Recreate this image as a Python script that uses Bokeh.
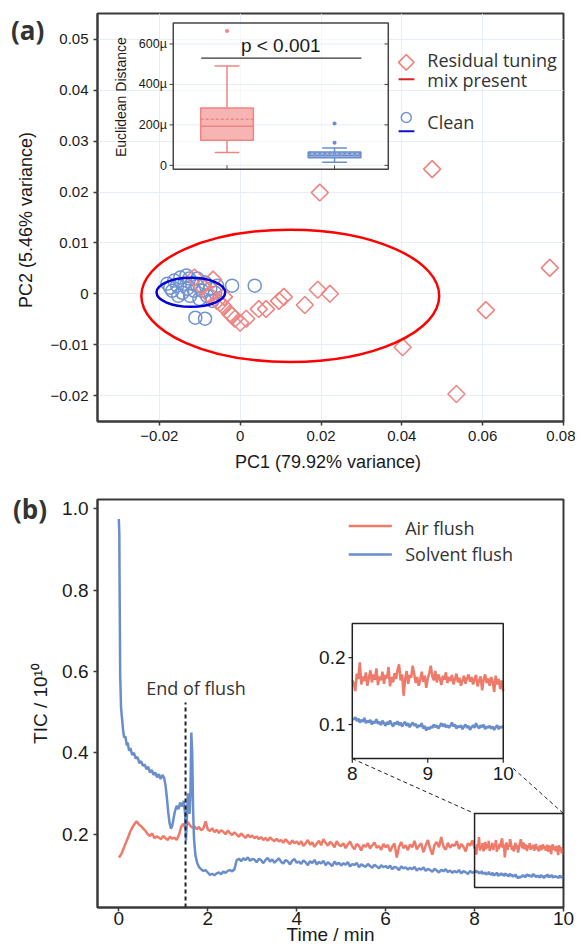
import numpy as np
from bokeh.plotting import figure
from bokeh.layouts import column
from bokeh.models import Range1d, FixedTicker, Div
from bokeh.core.properties import value
from bokeh.embed import file_html
from bokeh.resources import INLINE

# ======================= (a) PCA scores =======================
res_pc1 = [-0.0113, -0.0094, -0.0067, -0.0077, -0.0057, -0.0050, -0.0042, -0.0040, -0.0025,
           -0.0020, -0.0013, 0.0000, 0.0015, 0.0046, 0.0064, 0.0096, 0.0108, 0.0160, 0.0192,
           0.0222, 0.0197, 0.0475, 0.0766, 0.0608, 0.0402, 0.0535]
res_pc2 = [0.0032, 0.0014, 0.0028, -0.0002, -0.0014, -0.0018, -0.0024, -0.0006, -0.0039,
           -0.0043, -0.0049, -0.0057, -0.0049, -0.0030, -0.0030, -0.0014, -0.0006, -0.0022, 0.0008,
           0.0000, 0.0199, 0.0245, 0.0051, -0.0032, -0.0105, -0.0197]
clean_pc1 = [-0.0180, -0.0168, -0.0163, -0.0156, -0.0148, -0.0143, -0.0138, -0.0131, -0.0126,
             -0.0124, -0.0119, -0.0114, -0.0106, -0.0101, -0.0094, -0.0087, -0.0082, -0.0074,
             -0.0069, -0.0062, -0.0153, -0.0173, -0.0133, -0.0106, -0.0057, -0.0020, 0.0036,
             -0.0111, -0.0087]
clean_pc2 = [0.0020, 0.0006, 0.0026, 0.0016, 0.0032, 0.0002, 0.0020, 0.0010, 0.0030,
             -0.0004, 0.0020, 0.0006, 0.0016, -0.0010, 0.0006, 0.0022, -0.0004, 0.0010,
             -0.0014, 0.0002, -0.0004, 0.0012, 0.0036, 0.0030, 0.0016, 0.0016, 0.0016,
             -0.0047, -0.0049]
ell_x = [0.0124, -0.0122]
ell_y = [-0.0004, 0.0003]
ell_w = [0.0737, 0.0170]
ell_h = [0.0260, 0.0057]
ell_colors = ["#ff0000", "#0000d8"]
pca_xticks = [-0.02, 0, 0.02, 0.04, 0.06, 0.08]
pca_xlabels = ["−0.02", "0", "0.02", "0.04", "0.06", "0.08"]
pca_yticks = [-0.02, -0.01, 0, 0.01, 0.02, 0.03, 0.04, 0.05]
pca_ylabels = ["−0.02", "−0.01", "0", "0.01", "0.02", "0.03", "0.04", "0.05"]
legend_a_text = ["Residual tuning", "mix present", "Clean"]

# inset box plot (Euclidean distance, in µ units)
box_cats = [1, 2]
box_q1 = [124, 38]
box_q3 = [283, 66]
box_med = [193, 48]
box_mean = [228, 58]
box_lo = [64, 15]
box_hi = [491, 86]
out_cat = [1, 2, 2]
out_val = [664, 111, 207]
box_yticks = [0, 200, 400, 600]
box_ylabels = ["0", "200µ", "400µ", "600µ"]
sig_y = 530
sig_text = "p < 0.001"

# ======================= (b) TIC traces =======================
# values in units of 0.001 x 10^10
air_early = [143, 150, 163, 177, 190, 205, 216, 225, 232, 224,
             220, 214, 208, 200, 196, 202, 190, 195, 192, 188,
             196, 190, 186, 194, 189, 192, 186, 198, 218, 226,
             214, 230, 222, 216, 220, 212, 218, 210, 214, 232,
             212]                                   # t = 0.00 ... 2.00 (0.05 step)
air_mid = [208, 215, 205, 211, 203, 210, 206, 200, 209, 203,
           198, 205, 199, 194, 202, 196, 191, 199, 193, 197,
           190, 195, 188, 193, 186, 191, 184, 192, 187, 183,
           189, 182, 186, 179, 188, 181, 176, 185, 178, 182,
           175, 183, 171, 178, 186, 174, 180, 169, 177, 184,
           173, 188, 179, 172, 181, 176, 168, 183, 174, 171,
           178, 166, 175, 182, 170, 163, 176, 172, 160, 174,
           169, 178, 165, 173, 180, 167, 171, 162, 176, 168,
           174, 158, 170, 177, 143, 169, 181, 166, 173, 161,
           175, 168, 184, 163, 171, 178, 156, 172, 186, 165,
           150, 174, 181, 168, 193, 170, 162, 179, 167, 175,
           171, 183, 164, 176, 169, 158, 178, 172, 185, 166]   # t = 2.05 ... 8.00 (0.05 step)
air_late = [162, 150, 176, 168, 193, 160, 172, 165, 178, 158,
            170, 181, 163, 175, 167, 184, 159, 172, 166, 179,
            161, 174, 169, 186, 157, 171, 163, 177, 168, 182,
            190, 166, 175, 143, 168, 180, 161, 174, 170, 188,
            176, 162, 171, 158, 167, 179, 164, 173, 155, 169,
            177, 188, 172, 166, 180, 163, 175, 169, 159, 173,
            167, 178, 162, 171, 165, 174, 160, 168, 176, 163,
            170, 158, 166, 173, 161, 169, 175, 164, 171, 160,
            168, 174, 157, 166, 172, 151, 167, 175, 162, 169,
            158, 171, 164, 149, 173, 160, 168, 153, 166, 150]  # t = 8.02 ... 10.00 (0.02 step)

solv_early_t = [0.00, 0.01, 0.02, 0.03, 0.05, 0.08, 0.10, 0.12, 0.15, 0.18, 0.20, 0.23, 0.26,
                0.30, 0.34, 0.38, 0.42, 0.46, 0.50, 0.54, 0.58, 0.62, 0.66, 0.70, 0.74, 0.78,
                0.82, 0.86, 0.90, 0.94, 0.98, 1.02, 1.05, 1.08, 1.11, 1.14, 1.17, 1.20, 1.23,
                1.26, 1.30, 1.34, 1.38, 1.42, 1.46, 1.49, 1.51, 1.53, 1.55, 1.57, 1.59, 1.61,
                1.63, 1.65, 1.67, 1.69, 1.72, 1.76, 1.80, 1.85, 1.90, 1.95, 2.00]
solv_early = [975, 940, 760, 590, 510, 475, 452, 438, 440, 418, 425, 405, 412,
              395, 400, 386, 390, 375, 380, 368, 372, 360, 366, 352, 358, 346,
              352, 340, 348, 336, 346, 338, 320, 290, 255, 228, 214, 220, 238,
              256, 270, 262, 278, 268, 282, 250, 185, 240, 295, 300, 250, 300,
              450, 400, 260, 190, 150, 130, 120, 114, 110, 112, 106]
solv_mid = [100, 103, 99, 104, 106, 102, 108, 105, 110, 112,
            109, 114, 136, 140, 134, 141, 137, 143, 135, 139,
            138, 131, 140, 136, 129, 137, 142, 133, 138, 130,
            136, 141, 132, 128, 137, 133, 126, 135, 139, 130,
            133, 127, 136, 131, 124, 134, 129, 137, 126, 132,
            128, 135, 124, 131, 127, 122, 133, 126, 130, 123,
            129, 125, 132, 121, 127, 124, 130, 119, 126, 123,
            120, 127, 122, 118, 125, 121, 116, 124, 119, 122,
            117, 123, 114, 120, 118, 112, 121, 116, 119, 113,
            118, 114, 120, 111, 116, 113, 119, 110, 115, 112,
            108, 115, 111, 106, 113, 109, 114, 107, 111, 105,
            110, 106, 112, 104, 109, 107, 102, 110, 105, 108]
solv_late = [108, 111, 105, 109, 103, 107, 104, 110, 102, 106,
             103, 107, 100, 105, 102, 108, 101, 104, 99, 106,
             102, 98, 104, 100, 106, 101, 97, 103, 100, 105,
             99, 103, 97, 101, 104, 98, 102, 96, 100, 103,
             98, 101, 95, 99, 97, 102, 94, 98, 91, 96,
             93, 97, 95, 100, 96, 99, 94, 98, 102, 97,
             101, 96, 99, 95, 98, 103, 97, 100, 94, 98,
             96, 99, 93, 97, 100, 95, 98, 92, 96, 99,
             95, 102, 97, 94, 99, 96, 100, 93, 97, 95,
             98, 94, 97, 92, 96, 99, 93, 97, 95, 98]
flush_end = 1.5
tic_xticks = [0, 2, 4, 6, 8, 10]
tic_yticks = [0.2, 0.4, 0.6, 0.8, 1.0]
tic_ylabels = ["0.2", "0.4", "0.6", "0.8", "1.0"]
inset_xticks = [8, 9, 10]
inset_yticks = [0.1, 0.2]
legend_b_text = ["Air flush", "Solvent flush"]
panel_tags = ["(a)", "(b)"]

# sampling grids
t_early = np.round(np.arange(41) * 0.05, 3)
t_mid = np.round(2.0 + np.arange(1, 121) * 0.05, 3)
t_late = np.round(8.0 + np.arange(1, 101) * 0.02, 3)

air_t = np.concatenate([t_early, t_mid, t_late])
air_v = np.array(air_early + air_mid + air_late) / 1000.0
solv_t = np.concatenate([np.array(solv_early_t), t_mid, t_late])
solv_v = np.array(solv_early + solv_mid + solv_late) / 1000.0

RED = "#f07a6a"
BLUE = "#6a8dcc"
DIAM = "#ef8582"
CIRC = "#7094d0"
DARK = "#3a3a3a"
AX_FONT = "Liberation Sans"
TXT_FONT = "Open Sans"


def style_axes(p, tick_size, label_size):
    p.outline_line_color = DARK
    p.outline_line_width = 2
    for ax in (p.xaxis, p.yaxis):
        ax.axis_line_color = DARK
        ax.axis_line_width = 2
        ax.major_tick_line_color = DARK
        ax.major_tick_line_width = 1.5
        ax.major_tick_in = 0
        ax.major_tick_out = 4
        ax.minor_tick_line_color = None
        ax.major_label_text_font = AX_FONT
        ax.major_label_text_font_size = tick_size
        ax.major_label_text_color = "#1a1a1a"
        ax.axis_label_text_font = AX_FONT
        ax.axis_label_text_font_size = label_size
        ax.axis_label_text_font_style = "normal"
        ax.axis_label_text_color = "#1a1a1a"


# ---------------------------- figure (a) ----------------------------
pa = figure(width=575, height=475, x_range=Range1d(-0.0353, 0.0800), y_range=Range1d(-0.0251, 0.0551),
            output_backend="svg", toolbar_location=None,
            min_border_left=96, min_border_right=12, min_border_top=13, min_border_bottom=54)
pa.background_fill_color = "white"
pa.border_fill_color = "white"
style_axes(pa, "15px", "18px")
pa.xaxis.ticker = FixedTicker(ticks=pca_xticks)
pa.yaxis.ticker = FixedTicker(ticks=pca_yticks)
pa.xaxis.major_label_overrides = {t: l for t, l in zip(pca_xticks, pca_xlabels)}
pa.yaxis.major_label_overrides = {t: l for t, l in zip(pca_yticks, pca_ylabels)}
pa.xaxis.axis_label = "PC1  (79.92% variance)"
pa.yaxis.axis_label = "PC2  (5.46% variance)"
pa.xaxis.axis_label_standoff = 8
pa.yaxis.axis_label_standoff = 12
pa.grid.grid_line_color = "#e7edf6"
pa.grid.grid_line_width = 1

pa.scatter(clean_pc1, clean_pc2, marker="circle", size=13, fill_color=None,
           line_color=CIRC, line_width=1.5)
pa.scatter(res_pc1, res_pc2, marker="square", angle=np.pi / 4, size=12, fill_color=None,
           line_color=DIAM, line_width=1.6)
pa.ellipse(x=ell_x, y=ell_y, width=ell_w, height=ell_h, fill_color=None,
           line_color=ell_colors, line_width=2.5)

# legend (a)
pa.scatter([0.0411], [0.0455], marker="square", angle=np.pi / 4, size=11, fill_color=None,
           line_color=DIAM, line_width=1.6)
pa.segment(x0=[0.0392], y0=[0.0422], x1=[0.0431], y1=[0.0422], line_color="#e02020", line_width=2)
pa.scatter([0.0411], [0.03465], marker="circle", size=10, fill_color=None,
           line_color=CIRC, line_width=1.5)
pa.segment(x0=[0.0392], y0=[0.03195], x1=[0.0431], y1=[0.03195], line_color="#1010d0", line_width=2)
pa.text(x=[0.0463] * 3, y=[0.0460, 0.0420, 0.0338], text=legend_a_text,
        text_font=value(TXT_FONT), text_font_size="18px", text_color="#333333",
        text_baseline="middle", text_align="left")

# inset (a): box plot
bx_src = Range1d(0.5, 2.5)
by_src = Range1d(-20, 704)
ins = pa.subplot(x_source=bx_src, y_source=by_src,
                 x_target=Range1d(-0.01655, 0.03665), y_target=Range1d(0.02446, 0.05325))
ins.quad(left=[bx_src.start], right=[bx_src.end], bottom=[by_src.start], top=[by_src.end],
         fill_color="white", fill_alpha=0.6, line_color=None)
ins.segment(x0=[bx_src.start] * 4, x1=[bx_src.end] * 4, y0=box_yticks, y1=box_yticks,
            line_color="#e7edf6", line_width=1)
box_fill = ["#f6b5b3", "#a8bce6"]
box_line = ["#f08482", "#6a8dcc"]
cats = np.array(box_cats, dtype=float)
hw, cw = 0.245, 0.115
ins.segment(x0=cats, y0=box_q3, x1=cats, y1=box_hi, line_color=box_line, line_width=1.5)
ins.segment(x0=cats, y0=box_q1, x1=cats, y1=box_lo, line_color=box_line, line_width=1.5)
ins.segment(x0=cats - cw, y0=box_hi, x1=cats + cw, y1=box_hi, line_color=box_line, line_width=1.5)
ins.segment(x0=cats - cw, y0=box_lo, x1=cats + cw, y1=box_lo, line_color=box_line, line_width=1.5)
ins.vbar(x=cats, width=2 * hw, top=box_q3, bottom=box_q1, fill_color=box_fill,
         line_color=box_line, line_width=1.5)
ins.segment(x0=cats - hw, y0=box_med, x1=cats + hw, y1=box_med, line_color=box_line, line_width=1.5)
ins.segment(x0=cats - hw, y0=box_mean, x1=cats + hw, y1=box_mean, line_color=box_line,
            line_width=1.5, line_dash="3 2")
ins.scatter(out_cat, out_val, marker="circle", size=4,
            fill_color=[box_line[0], box_line[1], box_line[1]], line_color=None)
ins.segment(x0=[0.76], y0=[sig_y], x1=[2.25], y1=[sig_y], line_color="#333333", line_width=1.3)
ins.text(x=[1.5], y=[sig_y + 12], text=[sig_text], text_font=value(AX_FONT),
         text_font_size="19px", text_color="#1a1a1a", text_align="center", text_baseline="bottom")
# inset frame, ticks, labels
ins.quad(left=[bx_src.start], right=[bx_src.end], bottom=[by_src.start], top=[by_src.end],
         fill_color=None, line_color="#444444", line_width=1.5)
ins.segment(x0=[bx_src.start - 0.035] * 4, x1=[bx_src.start] * 4, y0=box_yticks, y1=box_yticks,
            line_color="#444444", line_width=1)
ins.segment(x0=[bx_src.end - 0.035] * 4, x1=[bx_src.end] * 4, y0=box_yticks, y1=box_yticks,
            line_color="#444444", line_width=1)
ins.segment(x0=cats, x1=cats, y0=[by_src.start] * 2, y1=[by_src.start + 20] * 2,
            line_color="#444444", line_width=1)
ins.text(x=[bx_src.start - 0.06] * 4, y=box_yticks, text=box_ylabels, text_font=value(AX_FONT),
         text_font_size="12.5px", text_color="#1a1a1a", text_align="right", text_baseline="middle")
ins.text(x=[0.01], y=[337], text=["Euclidean Distance"], angle=np.pi / 2, text_font=value(AX_FONT),
         text_font_size="14px", text_color="#1a1a1a", text_align="center", text_baseline="middle")

# ---------------------------- figure (b) ----------------------------
pb = figure(width=575, height=476, x_range=Range1d(-0.48, 10.0), y_range=Range1d(0.02, 1.023),
            output_backend="svg", toolbar_location=None,
            min_border_left=97, min_border_right=12, min_border_top=24, min_border_bottom=44)
pb.background_fill_color = "white"
pb.border_fill_color = "white"
style_axes(pb, "19px", "19px")
pb.grid.visible = False
pb.xaxis.ticker = FixedTicker(ticks=tic_xticks)
pb.yaxis.ticker = FixedTicker(ticks=tic_yticks)
pb.yaxis.major_label_overrides = {t: l for t, l in zip(tic_yticks, tic_ylabels)}
pb.xaxis.major_label_standoff = 0
pb.xaxis.axis_label = "Time / min"
pb.xaxis.axis_label_standoff = -4
pb.yaxis.axis_label = "TIC / 10¹⁰"
pb.yaxis.axis_label_standoff = 8

pb.line(air_t, air_v, line_color=RED, line_width=2.5)
pb.line(solv_t, solv_v, line_color=BLUE, line_width=2.5)

# end-of-flush marker
pb.segment(x0=[flush_end], y0=[pb.y_range.start], x1=[flush_end], y1=[0.524],
           line_color="#222222", line_width=2, line_dash="4 3")
pb.text(x=[1.735], y=[0.560], text=["End of flush"], text_font=value(TXT_FONT),
        text_font_size="18px", text_color="#333333", text_align="center", text_baseline="middle")

# zoom box and connectors
ix_src = Range1d(8, 10)
iy_src = Range1d(0.049, 0.251)
pb.quad(left=[ix_src.start], right=[ix_src.end], bottom=[0.069], top=[0.251], fill_color=None,
        line_color="#222222", line_width=1.5)
pb.segment(x0=[5.25, 8.87], y0=[0.386, 0.362], x1=[8.0, 10.0], y1=[0.251, 0.251],
           line_color="#222222", line_width=1, line_dash="4 3")

# legend (b)
pb.segment(x0=[5.17, 5.17], y0=[0.958, 0.888], x1=[6.14, 6.14], y1=[0.958, 0.888],
           line_color=[RED, BLUE], line_width=2.5)
pb.text(x=[6.44, 6.44], y=[0.952, 0.890], text=legend_b_text, text_font=value(TXT_FONT),
        text_font_size="18px", text_color="#333333", text_align="left", text_baseline="middle")

# inset (b)
ib = pb.subplot(x_source=ix_src, y_source=iy_src,
                x_target=Range1d(5.25, 8.645), y_target=Range1d(0.386, 0.718))
sel_a = air_t >= 8.0
sel_s = solv_t >= 8.0
ib.line(air_t[sel_a], air_v[sel_a], line_color=RED, line_width=2.5)
ib.line(solv_t[sel_s], solv_v[sel_s], line_color=BLUE, line_width=2.5)
ib.quad(left=[ix_src.start], right=[ix_src.end], bottom=[iy_src.start], top=[iy_src.end],
        fill_color=None, line_color="#222222", line_width=1.5)
ib.segment(x0=[ix_src.start - 0.05] * 2, x1=[ix_src.start] * 2, y0=inset_yticks, y1=inset_yticks,
           line_color="#222222", line_width=1.2)
ib.segment(x0=inset_xticks, x1=inset_xticks, y0=[iy_src.start - 0.006] * 3, y1=[iy_src.start] * 3,
           line_color="#222222", line_width=1.2)
ib.text(x=[ix_src.start - 0.09] * 2, y=inset_yticks, text=["0.1", "0.2"], text_font=value(AX_FONT),
        text_font_size="19px", text_color="#1a1a1a", text_align="right", text_baseline="middle")
ib.text(x=inset_xticks, y=[0.027] * 3, text=["8", "9", "10"], text_font=value(AX_FONT),
        text_font_size="19px", text_color="#1a1a1a", text_align="center", text_baseline="middle")

# panel tags (a), (b) placed over the left margins
tag_style = {"position": "absolute", "font-family": "Open Sans", "font-weight": "bold",
             "font-size": "26px", "line-height": "30px", "color": "#333333", "z-index": "10"}
tag_a = Div(text=panel_tags[0], width=44, height=32,
            styles=dict(tag_style, left="6px", top="10px"))
tag_b = Div(text=panel_tags[1], width=44, height=32,
            styles=dict(tag_style, left="8px", top="489px"))

layout = column(pa, pb, tag_a, tag_b, spacing=0)
open("out.html", "w").write(file_html(layout, INLINE))
